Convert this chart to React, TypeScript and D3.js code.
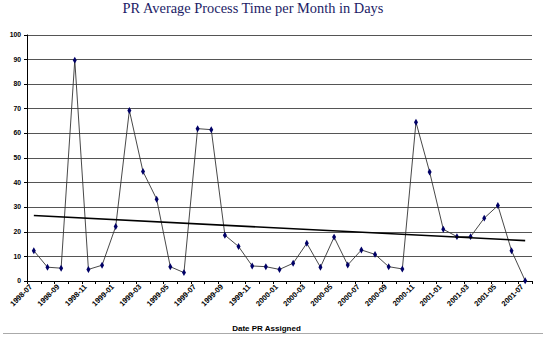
import React from "react";
import * as d3 from "d3";

const months = [
  "1998-07","1998-08","1998-09","1998-10","1998-11","1998-12",
  "1999-01","1999-02","1999-03","1999-04","1999-05","1999-06",
  "1999-07","1999-08","1999-09","1999-10","1999-11","1999-12",
  "2000-01","2000-02","2000-03","2000-04","2000-05","2000-06",
  "2000-07","2000-08","2000-09","2000-10","2000-11","2000-12",
  "2001-01","2001-02","2001-03","2001-04","2001-05","2001-06","2001-07",
];
const days = [
  12.3, 5.6, 5.2, 89.6, 4.7, 6.4, 22.1, 69.2, 44.4, 33.2, 5.8, 3.4,
  61.8, 61.4, 18.6, 14.0, 6.1, 5.8, 4.7, 7.2, 15.3, 5.6, 17.8, 6.5,
  12.6, 10.8, 5.8, 4.9, 64.4, 44.2, 21.0, 18.0, 18.0, 25.5, 30.6, 12.3, 0.1,
];
const yTicks = [0, 10, 20, 30, 40, 50, 60, 70, 80, 90, 100];
const title = "PR Average Process Time per Month in Days";
const xTitle = "Date PR Assigned";

const W = 550, H = 341;
const left = 27, right = 532, top = 34.5, bottom = 281;

export default function App() {
  const x = d3.scaleBand<string>().domain(months).range([left, right]);
  const cx = (m: string) => (x(m) as number) + x.bandwidth() / 2;
  const y = d3.scaleLinear().domain([0, 100]).range([bottom, top]);

  // linear trend (least squares over month index)
  const n = days.length;
  const xs = d3.range(n);
  const mx = d3.mean(xs) as number;
  const my = d3.mean(days) as number;
  const slope = d3.sum(xs.map((i) => (i - mx) * (days[i] - my))) / d3.sum(xs.map((i) => (i - mx) ** 2));
  const icpt = my - slope * mx;
  const trend = [0, n - 1].map((i) => [cx(months[i]), y(icpt + slope * i)] as [number, number]);

  const line = d3.line<number>().x((_, i) => cx(months[i])).y((d) => y(d));
  const diamond = d3.symbol().type(d3.symbolDiamond).size(14)() as string;

  const tickBoundaries = d3.range(n + 1).map((i) => left + i * x.step());

  return (
    <svg width={W} height={H} style={{ position: "absolute", left: 0, top: 0, background: "#fff" }}>
      <rect x={0} y={0} width={W} height={H} fill="#fff" />
      <text x={253} y={12.5} textAnchor="middle" fontFamily="Liberation Serif, Times New Roman, serif" fontSize={14.4} fill="#1c1c66">
        {title}
      </text>
      {yTicks.filter((t) => t > 0).map((t) => (
        <line key={t} x1={left} x2={right} y1={Math.round(y(t)) + 0.5} y2={Math.round(y(t)) + 0.5} stroke="#555" strokeWidth={1} />
      ))}
      {yTicks.map((t) => (
        <g key={"yt" + t}>
          <line x1={left - 3} x2={left} y1={Math.round(y(t)) + 0.5} y2={Math.round(y(t)) + 0.5} stroke="#000" />
          <text x={21} y={y(t)} dy="0.35em" textAnchor="end" fontFamily="Liberation Sans, Arial, sans-serif" fontWeight="bold" fontSize={6.8} fill="#000">
            {t}
          </text>
        </g>
      ))}
      <line x1={left + 0.5} x2={left + 0.5} y1={top} y2={bottom} stroke="#000" />
      <line x1={left} x2={right} y1={Math.round(bottom) + 0.5} y2={Math.round(bottom) + 0.5} stroke="#000" />
      {tickBoundaries.map((b, i) => (
        <line key={"xt" + i} x1={Math.round(b) + 0.5} x2={Math.round(b) + 0.5} y1={bottom} y2={bottom + 3} stroke="#000" />
      ))}
      {months.map((m, i) =>
        i % 2 === 0 ? (
          <text key={"xl" + m} transform={`translate(${cx(m) - 3},${bottom + 4.5}) rotate(-45)`} textAnchor="end" dy="0.35em" fontFamily="Liberation Sans, Arial, sans-serif" fontWeight="bold" fontSize={7.5} fill="#000">
            {m}
          </text>
        ) : null
      )}
      <path d={line(days) as string} fill="none" stroke="#333" strokeWidth={0.9} />
      {days.map((d, i) => (
        <path key={"pt" + i} d={diamond} transform={`translate(${cx(months[i])},${y(d)})`} fill="#000066" />
      ))}
      <line x1={trend[0][0]} y1={trend[0][1]} x2={trend[1][0]} y2={trend[1][1]} stroke="#000" strokeWidth={1.6} />
      <text x={266.5} y={330.5} textAnchor="middle" fontFamily="Liberation Sans, Arial, sans-serif" fontWeight="bold" fontSize={8} fill="#000">
        {xTitle}
      </text>
      <line x1={3} x2={543} y1={333.5} y2={333.5} stroke="#aaa" />
    </svg>
  );
}
